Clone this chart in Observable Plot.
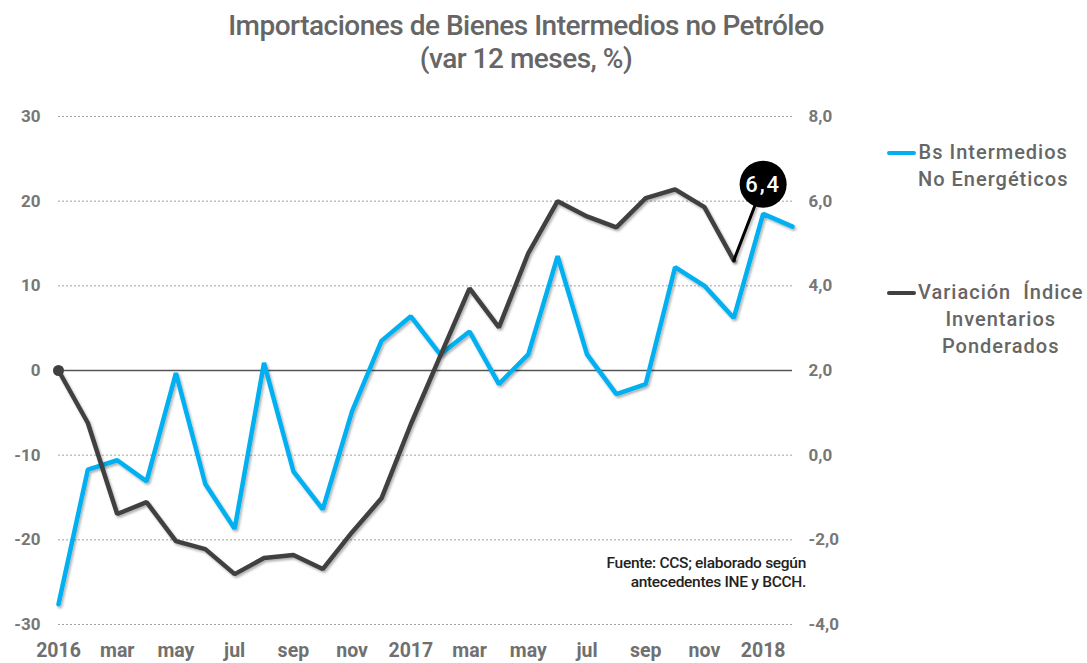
<!DOCTYPE html>
<html>
<head>
<meta charset="utf-8">
<script src="https://cdn.jsdelivr.net/npm/d3@7"></script>
<script src="https://cdn.jsdelivr.net/npm/@observablehq/plot@0.6"></script>
<style>
  html, body { margin: 0; padding: 0; background: #fff; }
  #wrap { position: relative; width: 1087px; height: 663px; overflow: hidden; }
  #title { width: 1052px; height: 85px; text-align: center; color: #666;
    font-family: Roboto, sans-serif; font-weight: 500; letter-spacing: -0.5px;
    font-size: 28px; line-height: 33px; padding-top: 9px; box-sizing: border-box; }
  .leg { position: absolute; left: 918px; color: #666; font-family: Roboto, sans-serif;
    font-weight: 500; font-size: 20px; line-height: 27px; text-align: center; letter-spacing: 1px; }
  .sw { position: absolute; left: 887px; width: 29px; height: 4px; border-radius: 2px; }
  #src { position: absolute; right: 281px; top: 554px; text-align: right; color: #222;
    font-family: Roboto, sans-serif; font-weight: 500; letter-spacing: -0.3px;
    font-size: 15.5px; line-height: 19px; }
</style>
</head>
<body>
<div id="wrap">
  <div id="title">Importaciones de Bienes Intermedios no Petróleo<br>(var 12 meses, %)</div>
  <div id="chart"></div>
  <div class="sw" style="top:151px;background:#00B0F0"></div>
  <div class="leg" style="top:139px">Bs Intermedios<br>No Energéticos</div>
  <div class="sw" style="top:291px;background:#404040"></div>
  <div class="leg" style="top:279px">Variación&nbsp; Índice<br>Inventarios<br>Ponderados</div>
  <div id="src">Fuente: CCS; elaborado según<br>antecedentes INE y BCCH.</div>
</div>
<script>
const months = ["2016-01","2016-02","2016-03","2016-04","2016-05","2016-06","2016-07","2016-08","2016-09","2016-10","2016-11","2016-12",
  "2017-01","2017-02","2017-03","2017-04","2017-05","2017-06","2017-07","2017-08","2017-09","2017-10","2017-11","2017-12",
  "2018-01","2018-02"];
const tickLabels = ["2016","mar","may","jul","sep","nov","2017","mar","may","jul","sep","nov","2018"];
// Bs Intermedios No Energéticos (left axis, %)
const bsIntermedios = [-27.6,-11.7,-10.6,-13.1,-0.3,-13.4,-18.7,0.9,-11.9,-16.4,-4.8,3.5,
  6.4,1.9,4.6,-1.6,1.9,13.5,1.9,-2.8,-1.6,12.2,10.0,6.2,18.5,17.0];
// Variación Índice Inventarios Ponderados (right axis, %)
const inventarios = [2.0,0.76,-1.39,-1.11,-2.03,-2.22,-2.81,-2.43,-2.36,-2.69,-1.82,-1.02,
  0.73,2.34,3.94,3.02,4.77,6.0,5.64,5.38,6.07,6.28,5.86,4.60,6.4];
const leftTicks = [-30,-20,-10,0,10,20,30];
const rightTickLabels = ["-4,0","-2,0","0,0","2,0","4,0","6,0","8,0"];

// right axis value -> left axis units (8,0 <-> 30, -4,0 <-> -30)
const toLeft = v => (v - 2) * 5;

const rows = months.map((m, i) => ({month: m, bs: bsIntermedios[i], inv: inventarios[i]}));
const invRows = rows.filter(d => d.inv !== undefined);
const lastIdx = invRows.length - 1;

const tickMonths = months.filter((d, i) => i % 2 === 0);

const chart = Plot.plot({
  width: 1087, height: 578,
  marginTop: 31, marginBottom: 39, marginLeft: 58, marginRight: 295,
  x: {type: "point", domain: months, padding: 0, round: false},
  y: {domain: [-30, 30]},
  style: {fontFamily: "Roboto, sans-serif", background: "transparent", overflow: "visible"},
  marks: [
    Plot.ruleY(leftTicks.filter(d => d !== 0), {stroke: "#8a8a8a", strokeWidth: 0.8, strokeDasharray: "2,2"}),
    Plot.ruleY([0], {stroke: "#555", strokeWidth: 1.3}),
    Plot.axisY({ticks: leftTicks, anchor: "left", tickSize: 0, tickPadding: 18, label: null,
      tickFormat: d => String(d), fontSize: 17, fontWeight: 700, fill: "#777"}),
    Plot.axisY({ticks: leftTicks, anchor: "right", tickSize: 0, tickPadding: 16, label: null,
      tickFormat: d => rightTickLabels[leftTicks.indexOf(d)], textAnchor: "start", fontSize: 17, fontWeight: 700, fill: "#777"}),
    Plot.axisX({ticks: tickMonths, tickSize: 0, tickPadding: 19, label: null,
      tickFormat: d => tickLabels[tickMonths.indexOf(d)], fontSize: 19.5, fontWeight: 700, fill: "#707070"}),
    Plot.line(rows, {x: "month", y: "bs", stroke: "#00B0F0", strokeWidth: 4.5, strokeLinejoin: "miter"}),
    Plot.line(invRows.slice(0, lastIdx), {x: "month", y: d => toLeft(d.inv), stroke: "#404040", strokeWidth: 4.5, strokeLinejoin: "miter"}),
    Plot.line(invRows.slice(lastIdx - 1), {x: "month", y: d => toLeft(d.inv), stroke: "#000", strokeWidth: 3}),
    Plot.dot([invRows[0]], {x: "month", y: d => toLeft(d.inv), r: 5.5, fill: "#404040"}),
    Plot.dot([invRows[lastIdx]], {x: "month", y: d => toLeft(d.inv), r: 23.5, fill: "#000"}),
    Plot.text([invRows[lastIdx]], {x: "month", y: d => toLeft(d.inv), text: d => d.inv.toFixed(1).replace(".", ","),
      fill: "#fff", fontSize: 22, fontWeight: 500, fontFamily: "Roboto, sans-serif", dy: 1})
  ]
});
document.getElementById("chart").appendChild(chart);
d3.select(chart).selectAll('g[aria-label="text"] text').style("letter-spacing", "2px");

// subtle drop shadow on the lines
const svg = d3.select(chart);
const defs = svg.insert("defs", ":first-child");
defs.append("filter").attr("id", "shadow").attr("x", "-5%").attr("y", "-5%").attr("width", "110%").attr("height", "110%")
  .append("feDropShadow").attr("dx", 1.5).attr("dy", 2).attr("stdDeviation", 1.2)
  .attr("flood-color", "#000").attr("flood-opacity", 0.3);
svg.selectAll('g[aria-label="line"]').attr("filter", "url(#shadow)");
</script>
</body>
</html>
